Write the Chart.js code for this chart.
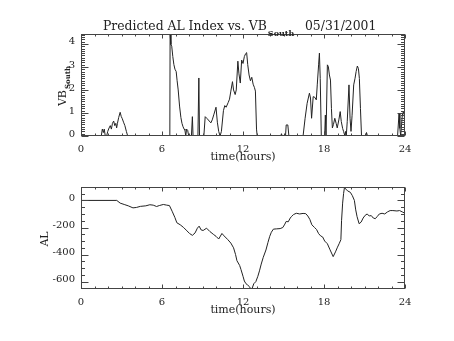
<!DOCTYPE html>
<html><head><meta charset="utf-8">
<script src="https://cdn.jsdelivr.net/npm/chart.js@4"></script>
<style>
html,body{margin:0;padding:0;background:#fff;width:454px;height:341px;overflow:hidden;}
canvas{position:absolute;left:0;}
#c1{top:0;} #c2{top:175px;}
</style></head><body>
<canvas id="c1" width="454" height="175"></canvas>
<canvas id="c2" width="454" height="166"></canvas>
<script>
// ---- data (hours UT) ----
const vbHours = [0,1.5,1.58,1.66,1.72,1.8,1.9,1.98,2.08,2.17,2.25,2.33,2.42,2.5,2.58,2.64,2.7,2.79,2.9,2.98,3.06,3.15,3.25,3.36,3.46,
 6.58,6.6,6.66,6.72,6.8,6.88,6.96,7.05,7.12,7.2,7.3,7.4,7.48,7.56,7.64,7.7,7.76,7.82,7.9,7.98,
 8.18,8.25,8.3,8.66,8.73,8.78,9.1,9.2,9.35,9.5,9.62,9.72,9.85,10.0,10.1,10.2,10.3,10.4,10.55,10.65,10.75,10.9,11.0,11.1,11.22,11.3,11.42,11.5,
 11.62,11.7,11.8,11.9,12.0,12.1,12.2,12.27,12.35,12.45,12.55,12.65,12.75,12.85,12.92,13.0,13.05,
 14.8,14.85,14.9,15.15,15.2,15.32,15.4,16.45,16.6,16.75,16.92,17.0,17.08,17.2,17.32,17.43,17.5,17.6,17.66,17.72,17.8,
 18.05,18.1,18.15,18.25,18.32,18.4,18.48,18.55,18.62,18.7,18.8,18.9,18.98,19.1,19.2,19.28,19.38,19.45,19.55,19.6,19.65,
 19.72,19.85,19.93,20.0,20.08,20.2,20.3,20.38,20.47,20.55,20.62,20.7,20.78,21.1,21.15,21.22,
 23.45,23.56,23.62,23.68,23.8,23.88,23.95,24.0];
const vbSouth = [0,0,0.3,0.15,0.3,0,0,0.2,0.35,0.45,0.3,0.55,0.65,0.45,0.55,0.35,0.55,0.8,1.03,0.85,0.75,0.6,0.45,0.2,0,
 0,4.43,3.97,3.9,3.45,3.1,2.9,2.8,2.4,2.0,1.3,0.8,0.55,0.4,0.3,0.25,0,0.3,0.25,0,
 0,0.84,0,0,2.52,0,0,0.84,0.75,0.65,0.57,0.7,0.95,1.25,0.6,0.2,0,0.2,1.1,1.32,1.25,1.45,1.6,1.95,2.36,2.0,1.8,2.0,
 3.25,2.7,2.3,3.3,3.15,3.45,3.58,3.62,3.1,2.65,2.4,2.55,2.25,2.1,1.95,0.3,0,
 0,0.1,0,0,0.48,0.48,0,0,0.77,1.42,1.86,1.65,0.77,1.71,1.68,1.57,2.22,3.09,3.6,2.5,0,
 0,0.91,0,3.09,3.02,2.65,2.43,1.2,0.35,0.5,0.77,0.55,0.35,0.7,1.06,0.63,0.33,0.2,0,0.2,0,
 0.62,2.22,0.77,0.2,0.9,2.22,2.51,2.8,3.04,2.93,2.5,1.2,0,0,0.15,0,
 0,0.99,0.33,0,0.91,1.06,0.91,0.35];

const alHours = [0,2.65,2.9,3.2,3.5,3.85,4.1,4.4,4.8,5.1,5.35,5.6,5.8,6.1,6.35,6.55,6.75,6.95,7.1,7.35,7.6,7.85,8.05,8.25,8.45,8.62,8.75,8.9,9.05,9.3,9.55,9.8,
 10.0,10.2,10.44,10.6,10.86,11.1,11.3,11.45,11.55,11.75,11.85,12.0,12.1,12.22,12.35,12.47,12.58,12.68,12.8,12.95,13.1,13.22,13.35,13.5,13.7,13.85,13.98,14.1,14.25,14.5,14.75,14.95,
 15.1,15.2,15.35,15.5,15.6,15.75,15.95,16.2,16.45,16.65,16.8,16.95,17.1,17.3,17.45,17.6,17.75,17.9,18.05,18.25,18.45,18.68,18.85,19.0,19.12,19.25,19.3,19.38,19.45,19.52,19.6,19.75,19.95,
 20.1,20.25,20.35,20.45,20.6,20.75,20.9,21.05,21.2,21.35,21.5,21.65,21.8,21.95,22.1,22.3,22.5,22.7,22.9,23.1,23.4,23.6,23.8,24.0];
const alIndex = [0,0,-20,-30,-40,-55,-52,-44,-40,-32,-35,-45,-38,-30,-35,-38,-80,-125,-165,-180,-200,-225,-245,-258,-240,-205,-190,-218,-222,-205,-230,-250,
 -265,-285,-244,-262,-288,-315,-350,-400,-445,-480,-510,-560,-595,-615,-625,-636,-654,-648,-615,-600,-560,-520,-470,-420,-366,-310,-265,-235,-212,-210,-208,-200,
 -175,-155,-158,-130,-118,-104,-95,-100,-96,-98,-115,-140,-180,-200,-215,-245,-262,-270,-300,-320,-365,-415,-380,-345,-320,-290,-150,-20,50,99,85,70,60,
 35,0,-70,-120,-172,-160,-130,-110,-100,-115,-112,-130,-135,-118,-100,-95,-100,-85,-75,-75,-78,-75,-85,-95];

const xTicks = [0,6,12,18,24];
const vbTicks = [0,1,2,3,4];
const alTicks = [-600,-400,-200,0];

// ---- helpers ----
const INK = '#222';
const TICKFONT = {family:'DejaVu Serif', size:10};
function pts(xs, ys){ return xs.map((x,i)=>({x:x, y:ys[i]})); }

function frameTicks(opts){
  return {
    id:'frameTicks',
    afterDraw(chart){
      const ctx = chart.ctx, a = chart.chartArea, xs = chart.scales.x, ys = chart.scales.y;
      ctx.save();
      ctx.strokeStyle = '#444'; ctx.lineWidth = 1;
      const L = Math.round(a.left)+0.5, R = Math.round(a.right)-0.5, T = Math.round(a.top)+0.5, B = Math.round(a.bottom)-0.5;
      ctx.strokeRect(L, T, R-L, B-T);
      ctx.beginPath();
      for (let h=0; h<=24; h+=1){
        const px = Math.round(xs.getPixelForValue(h))+0.5;
        const len = (h%6===0) ? 4 : 2;
        ctx.moveTo(px,B); ctx.lineTo(px,B-len);
        ctx.moveTo(px,T); ctx.lineTo(px,T+len);
      }
      for (let v=opts.yStart; v<=opts.yEnd+1e-9; v+=opts.yMinor){
        const py = Math.round(ys.getPixelForValue(v))+0.5;
        const major = Math.abs(Math.round(v/opts.yMajor)*opts.yMajor - v) < 1e-6;
        const len = major ? 7 : 3.5;
        ctx.moveTo(L,py); ctx.lineTo(L+len,py);
        ctx.moveTo(R,py); ctx.lineTo(R-len,py);
      }
      ctx.stroke();
      ctx.restore();
    }
  };
}

function drawSub(ctx, x, y, main, sub, mainFont, subFont, dy){
  ctx.font = mainFont; ctx.fillText(main, x, y);
  const w = ctx.measureText(main).width;
  ctx.font = subFont; ctx.fillText(sub, x + w + 1, y + dy);
  return w + 1 + ctx.measureText(sub).width;
}

function makeChart(id, xsData, ysData, yMin, yMax, yTickVals, padTop, padRight, xHeight, extras, tickOpts){
  return new Chart(document.getElementById(id), {
    type:'line',
    data:{ datasets:[{ data: pts(xsData, ysData), borderColor: INK, borderWidth: 1, pointRadius: 0, tension: 0, fill:false }]},
    options:{
      responsive:false, animation:false, devicePixelRatio:1,
      layout:{ padding:{ top:padTop, right:padRight, left:0, bottom:0 } },
      plugins:{ legend:{display:false}, tooltip:{enabled:false} },
      scales:{
        x:{ type:'linear', min:0, max:24,
            grid:{display:false, drawTicks:false}, border:{display:false},
            afterBuildTicks(s){ s.ticks = xTicks.map(v=>({value:v})); },
            afterFit(s){ s.height = xHeight; },
            ticks:{ font:TICKFONT, color:INK, padding:7, maxRotation:0, autoSkip:false, callback:(v)=>String(v) } },
        y:{ type:'linear', min:yMin, max:yMax,
            grid:{display:false, drawTicks:false}, border:{display:false},
            afterBuildTicks(s){ s.ticks = yTickVals.map(v=>({value:v})); },
            afterFit(s){ s.width = 81; },
            ticks:{ font:TICKFONT, color:INK, padding:6, labelOffset:-2, autoSkip:false, callback:(v)=>String(v) } }
      }
    },
    plugins:[frameTicks(tickOpts), extras]
  });
}

// ---- top chart ----
makeChart('c1', vbHours, vbSouth, 0, 4.43, vbTicks, 34, 49, 39, {
  id:'labels1',
  afterDraw(chart){
    const ctx = chart.ctx;
    ctx.save(); ctx.fillStyle = INK; ctx.textBaseline = 'alphabetic'; ctx.textAlign = 'left';
    // title
    ctx.font = '13px "DejaVu Serif"';
    const w0 = ctx.measureText('Predicted AL Index vs. VB').width;
    const fs = 13 * 164 / w0;
    drawSub(ctx, 103, 29.5, 'Predicted AL Index vs. VB', 'South', fs.toFixed(2)+'px "DejaVu Serif"', 'bold 8px "DejaVu Serif"', 6);
    ctx.font = fs.toFixed(2)+'px "DejaVu Serif"';
    ctx.fillText('05/31/2001', 305, 29.5);
    // x title
    ctx.font = '11px "DejaVu Serif"'; ctx.textAlign = 'center';
    ctx.fillText('time(hours)', 243, 159.5);
    // y title
    ctx.translate(65.5, 86); ctx.rotate(-Math.PI/2); ctx.textAlign = 'left';
    ctx.font = '11px "DejaVu Serif"';
    const wv = ctx.measureText('VB').width; ctx.font = 'bold 7px "DejaVu Serif"';
    const ws = ctx.measureText('South').width;
    drawSub(ctx, -(wv+1+ws)/2, 0, 'VB', 'South', '11px "DejaVu Serif"', 'bold 7px "DejaVu Serif"', 4.5);
    ctx.restore();
  }
}, {yStart:0, yEnd:4.43, yMinor:0.1, yMajor:1});

// ---- bottom chart ----
makeChart('c2', alHours, alIndex, -654, 99, alTicks, 12, 49, 52, {
  id:'labels2',
  afterDraw(chart){
    const ctx = chart.ctx;
    ctx.save(); ctx.fillStyle = INK; ctx.textBaseline = 'alphabetic'; ctx.textAlign = 'center';
    ctx.font = '11px "DejaVu Serif"';
    ctx.fillText('time(hours)', 243, 137.5);
    ctx.translate(47.5, 64); ctx.rotate(-Math.PI/2);
    ctx.fillText('AL', 0, 0);
    ctx.restore();
  }
}, {yStart:-650, yEnd:99, yMinor:50, yMajor:200});
</script>
</body></html>
